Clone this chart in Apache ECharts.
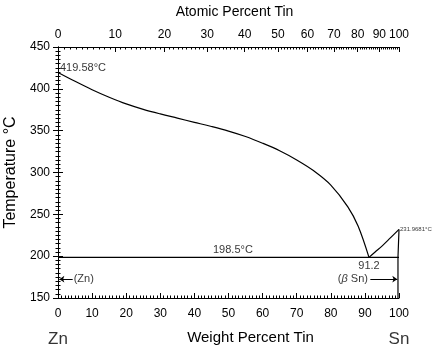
<!DOCTYPE html>
<html><head><meta charset="utf-8">
<script src="https://cdn.jsdelivr.net/npm/echarts@6/dist/echarts.min.js"></script>
<style>html,body{margin:0;padding:0;background:#fff}#c{width:435px;height:350px}</style>
</head><body><div id="c"></div>
<script>
// Zn-Sn phase diagram data (weight percent Sn, temperature °C)
const liqLeftW = [0, 5, 10, 15, 20, 25, 30, 35, 40, 45, 50, 55, 60, 65, 70, 75, 80, 85, 88, 91.2];
const liqLeftT = [419.58, 409, 399, 390, 382, 375.5, 370, 365, 360, 355, 349.5, 343, 335, 326, 315, 302, 285, 259, 236, 198.5];
const liqRightW = [91.2, 93, 95, 97, 100];
const liqRightT = [198.5, 205, 212, 220, 231.9681];
const eutW = [0, 100];
const eutT = [198.5, 198.5];
const solvusW = [100, 99.7, 99.7];
const solvusT = [231.9681, 198.5, 150];
const weightTicks = [0, 10, 20, 30, 40, 50, 60, 70, 80, 90, 100];
const tempTicks = [150, 200, 250, 300, 350, 400, 450];
const atomicTicks = [0, 10, 20, 30, 40, 50, 60, 70, 80, 90, 100];
const M_SN = 118.71, M_ZN = 65.38;

function atToWt(a) {
  if (a >= 100) return 100;
  return 100 * a * M_SN / (a * M_SN + (100 - a) * M_ZN);
}
const zip = (xs, ys) => xs.map((x, i) => [x, ys[i]]);
const atomicMajorPos = atomicTicks.map(atToWt);
const atomicMinorPos = [];
for (let a = 0; a <= 100; a++) atomicMinorPos.push(atToWt(a));

const FONT = 'Liberation Sans, Arial, Helvetica, sans-serif';
const lineStyle = { color: '#000', width: 1.2 };
const baseLine = { type: 'line', symbol: 'none', silent: true, lineStyle, xAxisIndex: 0, yAxisIndex: 0 };

const chart = echarts.init(document.getElementById('c'), null, { renderer: 'canvas' });
chart.setOption({
  animation: false,
  backgroundColor: '#fff',
  textStyle: { fontFamily: FONT, color: '#000' },
  grid: { left: 58, right: 36, top: 47, bottom: 52, outerBoundsMode: 'none' },
  xAxis: [
    {
      type: 'value', position: 'bottom', min: weightTicks[0], max: weightTicks[weightTicks.length - 1], interval: 10,
      name: 'Weight Percent Tin', nameLocation: 'middle', nameGap: 32,
      nameTextStyle: { fontSize: 15, fontFamily: FONT, color: '#000', padding: [0, 0, 0, 44] },
      axisLine: { lineStyle: { color: '#000', width: 1 } },
      axisTick: { inside: true, length: 5, lineStyle: { color: '#000' } },
      minorTick: { show: true, splitNumber: 10, length: 2.5, lineStyle: { color: '#000' } },
      axisLabel: { fontSize: 12, color: '#000', fontFamily: FONT, margin: 10 },
      splitLine: { show: false }
    },
    {
      type: 'value', position: 'top', min: 0, max: 100,
      axisLine: { lineStyle: { color: '#000', width: 1 } },
      axisTick: { inside: true, length: 2.5, customValues: atomicMinorPos, lineStyle: { color: '#000' } },
      axisLabel: { show: false },
      splitLine: { show: false }
    },
    {
      type: 'value', position: 'top', min: 0, max: 100,
      name: 'Atomic Percent Tin', nameLocation: 'middle', nameGap: 28,
      nameTextStyle: { fontSize: 14, fontFamily: FONT, color: '#000', padding: [0, 0, 0, 12] },
      axisLine: { lineStyle: { color: '#000', width: 1 } },
      axisTick: { inside: true, length: 5, customValues: atomicMajorPos, lineStyle: { color: '#000' } },
      axisLabel: {
        fontSize: 12, color: '#000', fontFamily: FONT, margin: 6,
        customValues: atomicMajorPos,
        formatter: (v) => {
          let best = 0, d = 1e9;
          atomicMajorPos.forEach((p, i) => { if (Math.abs(p - v) < d) { d = Math.abs(p - v); best = i; } });
          return String(atomicTicks[best]);
        }
      },
      splitLine: { show: false }
    }
  ],
  yAxis: [
    {
      type: 'value', position: 'left', min: tempTicks[0], max: tempTicks[tempTicks.length - 1], interval: 50,
      name: 'Temperature °C', nameLocation: 'middle', nameGap: 33, nameRotate: 90,
      nameTextStyle: { fontSize: 16, fontFamily: FONT, color: '#000' },
      axisLine: { show: true, lineStyle: { color: '#000', width: 1 } },
      axisTick: { show: true, inside: true, length: 5, lineStyle: { color: '#000' } },
      minorTick: { show: true, splitNumber: 10, length: 2.5, lineStyle: { color: '#000' } },
      axisLabel: { fontSize: 12, color: '#000', fontFamily: FONT, margin: 8 },
      splitLine: { show: false }
    },
    {
      type: 'value', position: 'right', min: 150, max: 450, interval: 50,
      axisLine: { show: true, lineStyle: { color: '#000', width: 1 } },
      axisTick: { show: true, inside: true, length: 5, lineStyle: { color: '#000' } },
      minorTick: { show: true, splitNumber: 10, length: 2.5, lineStyle: { color: '#000' } },
      axisLabel: { show: false },
      splitLine: { show: false }
    }
  ],
  series: [
    Object.assign({}, baseLine, { data: zip(liqLeftW, liqLeftT), smooth: 0.35 }),
    Object.assign({}, baseLine, { data: zip(liqRightW, liqRightT), smooth: 0.3 }),
    Object.assign({}, baseLine, { data: zip(eutW, eutT),
      markLine: {
        silent: true, symbol: ['none', 'arrow'], symbolSize: 5,
        lineStyle: { color: '#000', width: 1, type: 'solid' }, label: { show: false },
        data: [
          [{ coord: [4.3, 172.5] }, { coord: [0.4, 172.5] }],
          [{ coord: [91.6, 172.5] }, { coord: [99.5, 172.5] }]
        ]
      }
    }),
    Object.assign({}, baseLine, { data: zip(solvusW, solvusT) }),
    {
      type: 'scatter', symbolSize: 0, silent: true, xAxisIndex: 0, yAxisIndex: 0,
      label: { show: true, color: '#000', fontFamily: FONT, fontSize: 11 },
      data: [
        { value: [0, 419.58], label: { formatter: '419.58°C', position: 'right', offset: [-3, -4] } },
        { value: [51.3, 198.5], label: { formatter: '198.5°C', position: 'top', distance: 2 } },
        { value: [91.2, 198.5], label: { formatter: '91.2', position: 'bottom', distance: 3 } },
        { value: [91.2, 172.5], label: { formatter: '({i|β} Sn)', position: 'left', distance: 1,
            rich: { i: { fontStyle: 'italic', fontSize: 11, fontFamily: FONT } } } },
        { value: [4.3, 172.5], label: { formatter: '(Zn)', position: 'right', distance: 1 } },
        { value: [100, 231.9681], label: { formatter: '231.9681°C', position: 'right', distance: 1, fontSize: 6 } },
        { value: [0, 150], label: { formatter: 'Zn', position: 'bottom', distance: 33, fontSize: 17 } },
        { value: [100, 150], label: { formatter: 'Sn', position: 'bottom', distance: 33, fontSize: 17 } }
      ]
    }
  ]
});
</script></body></html>
